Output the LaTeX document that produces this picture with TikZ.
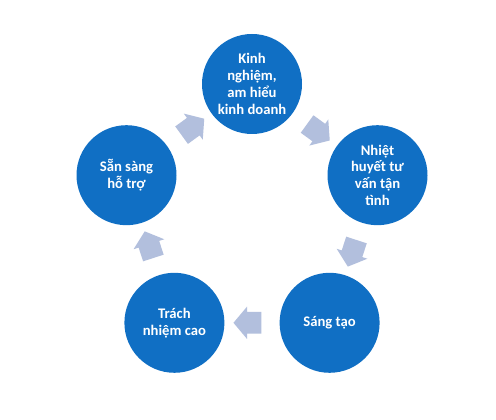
\documentclass[tikz,border=0pt]{standalone}
\usepackage{fontspec}
\setmainfont{Carlito}
\usepackage{xcolor}
\usetikzlibrary{positioning, shapes.arrows}
\definecolor{cycleblue}{RGB}{16,111,196}
\definecolor{arrowgrey}{RGB}{178,191,221}
\begin{document}
\begin{tikzpicture}[
      x=0.75pt, y=0.75pt,
      bubble/.style={circle, fill=cycleblue, text=white, minimum size=75pt, inner sep=0pt, align=center, font=\bfseries\fontsize{11}{12.6}\selectfont},
      flow/.style={single arrow, fill=arrowgrey, minimum height=21pt, minimum width=24pt, single arrow head extend=4pt, single arrow tip angle=100, inner xsep=0pt, inner ysep=7.9pt, midway, sloped, allow upside down}
    ]
    \useasboundingbox[fill=white] (0,0) rectangle (496,420);

    \node[bubble] (kinh) at (252,336) {Kinh\\nghiệm,\\am hiểu\\kinh doanh};
    \node[bubble] (nhiet) at (377.5,244.8) {Nhiệt\\huyết tư\\vấn tận\\tình};
    \node[bubble] (sang) at (329.6,97.2) {Sáng tạo};
    \node[bubble] (trach) at (174.4,97.2) {Trách\\nhiệm cao};
    \node[bubble] (san) at (126.5,244.8) {Sẵn sàng\\hỗ trợ};

    \path (kinh) -- (nhiet) node[flow] (f1) {};
    \path (nhiet) -- (sang) node[flow] (f2) {};
    \path (sang) -- (trach) node[flow] (f3) {};
    \path (trach) -- (san) node[flow] (f4) {};
    \path (san) -- (kinh) node[flow] (f5) {};
  \end{tikzpicture}
\end{document}
